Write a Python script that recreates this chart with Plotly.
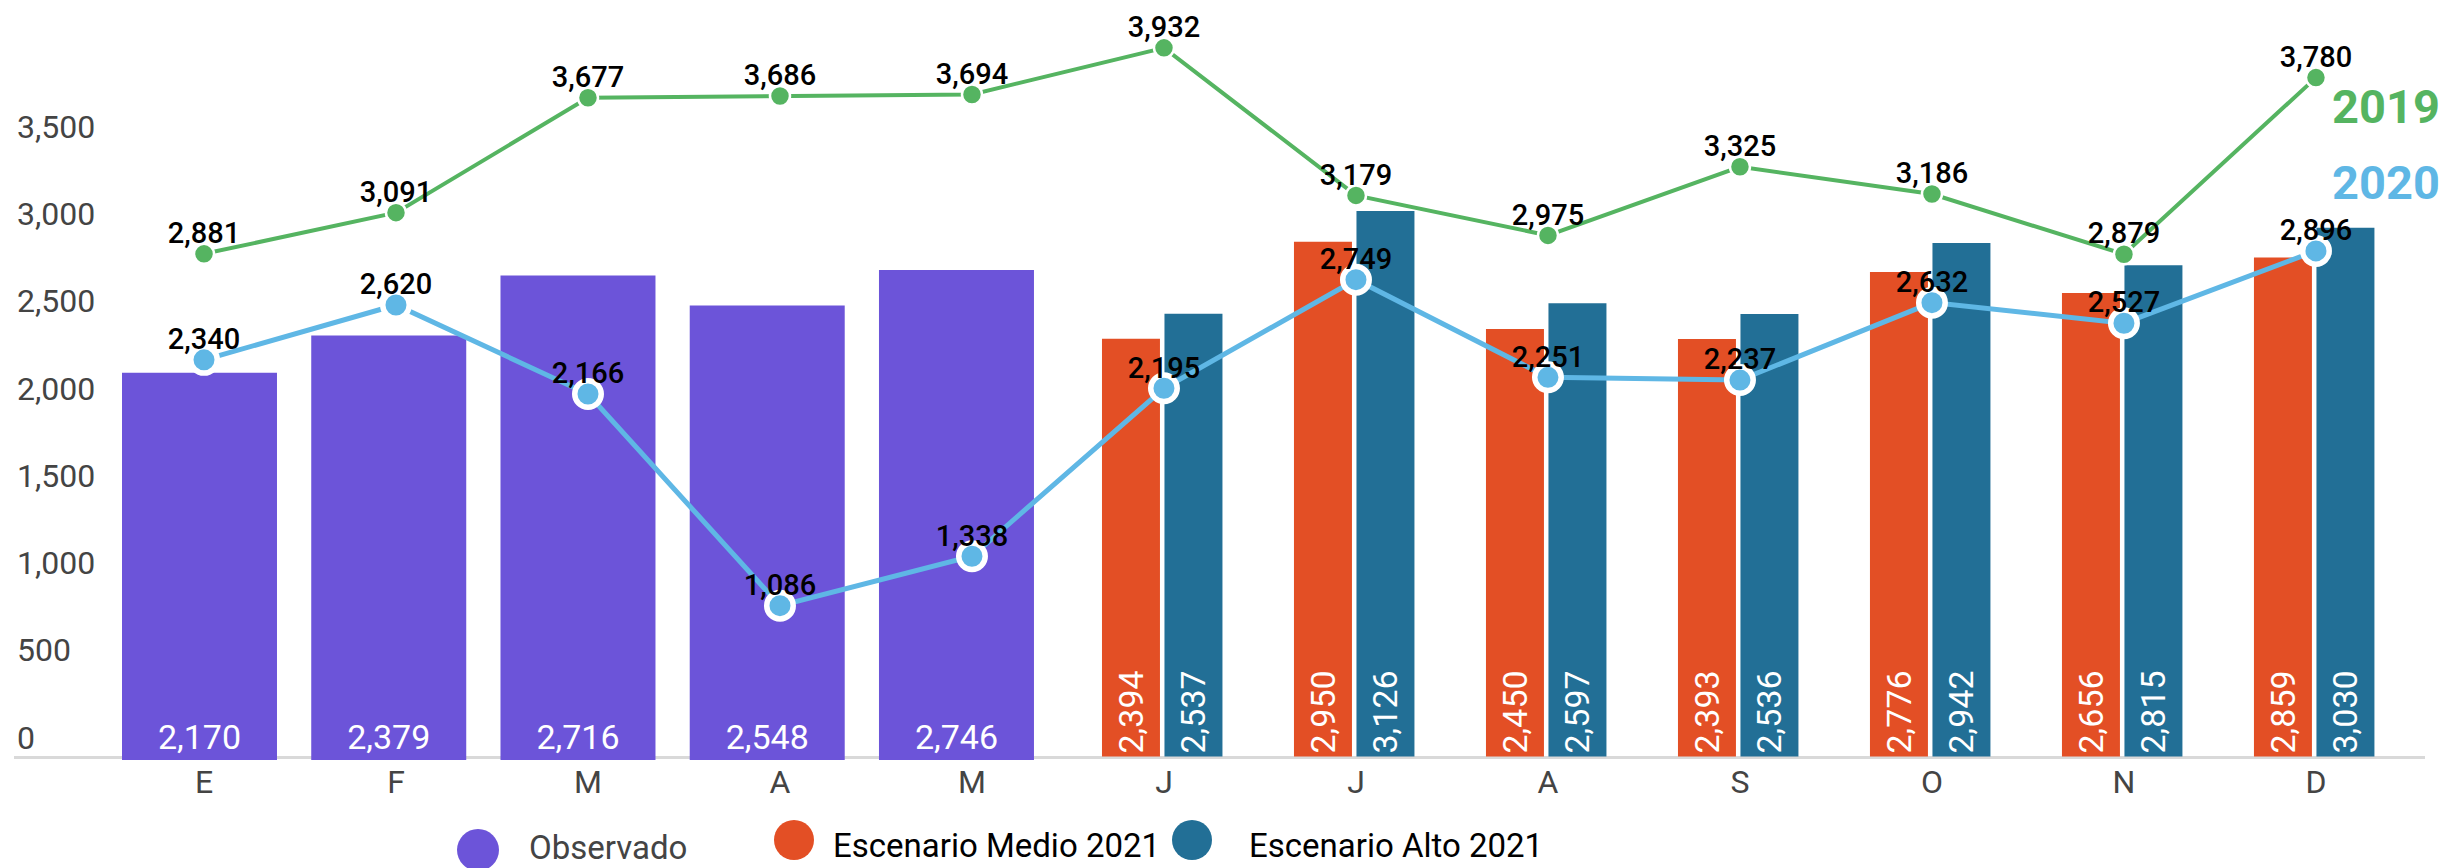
import plotly.graph_objects as go

# ---------------- data ----------------
months = ["E", "F", "M", "A", "M", "J", "J", "A", "S", "O", "N", "D"]
observado = [2170, 2379, 2716, 2548, 2746]
medio_2021 = [2394, 2950, 2450, 2393, 2776, 2656, 2859]
alto_2021 = [2537, 3126, 2597, 2536, 2942, 2815, 3030]
serie_2019 = [2881, 3091, 3677, 3686, 3694, 3932, 3179, 2975, 3325, 3186, 2879, 3780]
serie_2020 = [2340, 2620, 2166, 1086, 1338, 2195, 2749, 2251, 2237, 2632, 2527, 2896]
y_ticks = [0, 500, 1000, 1500, 2000, 2500, 3000, 3500]

# ---------------- styling ----------------
PAGE_W, PAGE_H = 2459, 868
BODY = 8                                  # default page margin around the plot div
W, H = PAGE_W - BODY, PAGE_H - BODY
L, R, T, B = 14, 2425, 20, 760            # plot area in page pixels
FONT = "Roboto"
C_OBS = "#6c54d9"
C_MED = "#e34f25"
C_ALT = "#226f96"
C_2019 = "#55b461"
C_2020 = "#5fb7e5"
C_TICK = "#444444"

x_idx = list(range(len(months)))
obs_x = x_idx[:len(observado)]
esc_x = x_idx[len(months) - len(medio_2021):]


def px_x(p):
    return (p - L) / (R - L)


def px_y(p):
    return (B - p) / (B - T)


fig = go.Figure()

# Scenario bars (main subplot x / y)
fig.add_trace(go.Bar(
    x=esc_x, y=medio_2021, xaxis="x", yaxis="y",
    marker=dict(color=C_MED, line=dict(width=0)),
    width=0.302, offset=-0.3229,
    texttemplate="%{y:,}", textposition="inside", insidetextanchor="start",
    textangle=-90, insidetextfont=dict(family=FONT, size=34, color="white"),
    hoverinfo="skip",
))
fig.add_trace(go.Bar(
    x=esc_x, y=alto_2021, xaxis="x", yaxis="y",
    marker=dict(color=C_ALT, line=dict(width=0)),
    width=0.302, offset=0.0026,
    texttemplate="%{y:,}", textposition="inside", insidetextanchor="start",
    textangle=-90, insidetextfont=dict(family=FONT, size=34, color="white"),
    hoverinfo="skip",
))

# Observado bars (own scale, x2 / y2)
fig.add_trace(go.Bar(
    x=obs_x, y=observado, xaxis="x2", yaxis="y2",
    marker=dict(color=C_OBS, line=dict(width=0)),
    width=0.819, offset=-0.4095,
    texttemplate="%{y:,}", textposition="inside", insidetextanchor="start",
    textangle=0, insidetextfont=dict(family=FONT, size=34, color="white"),
    hoverinfo="skip", cliponaxis=False,
))

# Lines (x3 / y3)
fig.add_trace(go.Scatter(
    x=x_idx, y=serie_2019, xaxis="x3", yaxis="y3",
    mode="lines+markers",
    line=dict(color=C_2019, width=4),
    marker=dict(color=C_2019, size=20, line=dict(color="white", width=2.5)),
    hoverinfo="skip", cliponaxis=False,
))
fig.add_trace(go.Scatter(
    x=x_idx, y=serie_2020, xaxis="x3", yaxis="y3",
    mode="lines+markers",
    line=dict(color=C_2020, width=5),
    marker=dict(color=C_2020, size=26.5, line=dict(color="white", width=5.5)),
    hoverinfo="skip", cliponaxis=False,
))
# value labels of the lines
for serie in (serie_2019, serie_2020):
    fig.add_trace(go.Scatter(
        x=x_idx, y=serie, xaxis="x3", yaxis="y3",
        mode="markers+text",
        marker=dict(size=4, color="rgba(0,0,0,0)"),
        texttemplate="%{y:,}", textposition="top center",
        textfont=dict(family=FONT, size=29, color="black", weight=500),
        hoverinfo="skip", cliponaxis=False,
    ))

# baseline
shapes = [dict(type="line", xref="paper", yref="paper", x0=0, x1=1,
               y0=px_y(757.5), y1=px_y(757.5),
               line=dict(color="#d9d9d9", width=3), layer="below")]

annotations = []
# custom legend (large round keys)
legend_items = [
    ("Observado", C_OBS, 478, 850, 42, 527, 847, C_TICK),
    ("Escenario Medio 2021", C_MED, 794, 840, 40, 831, 845, "black"),
    ("Escenario Alto 2021", C_ALT, 1192, 840, 40, 1247, 845, "black"),
]
for name, col, cx, cy, d, tx, ty, tcol in legend_items:
    shapes.append(dict(type="circle", xref="paper", yref="paper",
                       xsizemode="pixel", ysizemode="pixel",
                       xanchor=px_x(cx), yanchor=px_y(cy),
                       x0=-d / 2, x1=d / 2, y0=-d / 2, y1=d / 2,
                       fillcolor=col, line=dict(width=0)))
    annotations.append(dict(text=name, xref="paper", yref="paper",
                            x=px_x(tx), y=px_y(ty), xanchor="left", yanchor="middle",
                            showarrow=False,
                            font=dict(family=FONT, size=33, color=tcol)))

# series year labels
annotations.append(dict(text="<b>2019</b>", xref="paper", yref="paper",
                        x=px_x(2330), y=px_y(106), xanchor="left", yanchor="middle",
                        showarrow=False, font=dict(family=FONT, size=47, color=C_2019)))
annotations.append(dict(text="<b>2020</b>", xref="paper", yref="paper",
                        x=px_x(2330), y=px_y(182), xanchor="left", yanchor="middle",
                        showarrow=False, font=dict(family=FONT, size=47, color=C_2020)))

X_RANGE = [-0.9896, 11.568]
fig.update_layout(
    width=W, height=H, autosize=False,
    margin=dict(l=L - BODY, r=W - (R - BODY), t=T - BODY, b=H - (B - BODY), pad=0),
    paper_bgcolor="white", plot_bgcolor="white",
    showlegend=False, barmode="overlay",
    font=dict(family=FONT, color=C_TICK),
    xaxis=dict(range=X_RANGE,
               tickmode="array", tickvals=x_idx, ticktext=months,
               showgrid=False, zeroline=False, showline=False, ticks="",
               tickfont=dict(family=FONT, size=32, color=C_TICK),
               automargin=False, fixedrange=True),
    xaxis2=dict(overlaying="x", range=[-0.9802, 11.760], visible=False),
    xaxis3=dict(overlaying="x", range=X_RANGE, visible=False),
    yaxis=dict(range=[-20.06, 4220.6], tickmode="array", tickvals=y_ticks,
               ticktext=[f"{v:,}" for v in y_ticks],
               ticklabelposition="inside", ticklabelshift=-19,
               showgrid=False, zeroline=False, showline=False, ticks="",
               tickfont=dict(family=FONT, size=32, color=C_TICK),
               automargin=False, fixedrange=True),
    yaxis2=dict(overlaying="y", range=[0, 4147.9], visible=False),
    yaxis3=dict(overlaying="y", range=[298.5, 4074.0], visible=False),
    shapes=shapes, annotations=annotations,
)

fig.write_html("out.html")
